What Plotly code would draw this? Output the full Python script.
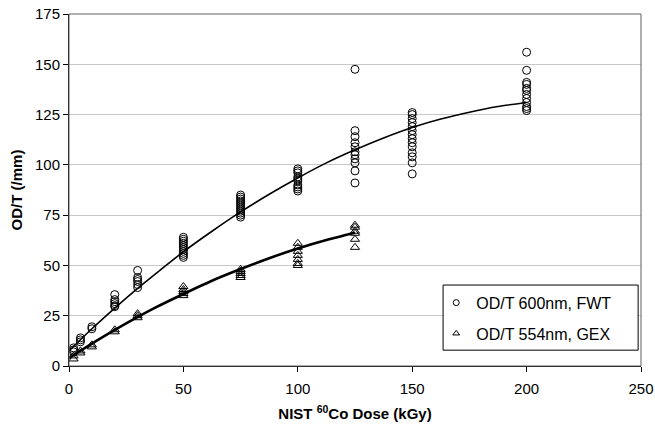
import plotly.graph_objects as go

# FWT (600 nm) readings: dose -> list of OD/T values
fwt_doses = [2, 5, 10, 20, 30, 50, 75, 100, 125, 150, 200]
fwt_values = [
    [9, 8, 7],
    [14, 13, 12],
    [19.5, 18.5],
    [35.5, 33, 32, 31, 30, 29.5],
    [47.5, 44, 43, 42, 40.5, 39],
    [64, 63, 62, 61, 60, 59, 58, 57, 56, 55, 54],
    [85, 84, 83, 82, 81, 80, 79, 78, 77, 76, 75, 74],
    [98, 97, 96, 94, 93, 92, 90, 89, 88, 87],
    [147.5, 117, 114, 111, 109, 106.5, 105, 103, 101, 97, 91],
    [126, 125, 123, 121, 119, 117, 115, 113, 111, 109, 106, 104, 101, 95.5],
    [156, 147, 141, 140, 138, 137, 135, 133, 131, 129, 128, 127],
]

# GEX (554 nm) readings
gex_doses = [2, 5, 10, 20, 30, 50, 75, 100, 125]
gex_values = [
    [5, 3.5],
    [7.5, 6.5],
    [10.5, 9.5],
    [18, 17],
    [26, 25, 24],
    [39.5, 38, 37, 36, 35],
    [48, 47, 46, 45, 44],
    [61, 59, 57, 55, 53, 51, 50],
    [70, 69, 67, 66, 63, 59],
]

# trendlines
fwt_trend_x = [0, 10, 20, 30, 40, 50, 62.5, 75, 87.5, 100, 112.5, 125,
               137.5, 150, 162.5, 175, 187.5, 200]
fwt_trend_y = [7.5, 18.5, 28.8, 38.6, 47.8, 56.8, 67, 76.6, 85.4, 93.5, 101,
               107.5, 113.4, 118.6, 122.8, 126.2, 129, 131]
gex_trend_x = [0, 12.5, 25, 37.5, 50, 62.5, 75, 87.5, 100, 112.5, 125]
gex_trend_y = [4, 12.9, 21.2, 28.9, 35.8, 42.4, 48.2, 53.6, 58.4, 62.6, 66.2]

legend_names = ["OD/T 600nm, FWT", "OD/T 554nm, GEX"]
x_ticks = [0, 50, 100, 150, 200, 250]
y_ticks = [0, 25, 50, 75, 100, 125, 150, 175]


def flatten(doses, values):
    xs, ys = [], []
    for d, vals in zip(doses, values):
        for v in vals:
            xs.append(d)
            ys.append(v)
    return xs, ys


fx, fy = flatten(fwt_doses, fwt_values)
gx, gy = flatten(gex_doses, gex_values)

fig = go.Figure()

fig.add_trace(go.Scatter(x=fwt_trend_x, y=fwt_trend_y, mode="lines",
                         line=dict(color="black", width=1.6, shape="spline", smoothing=0.6),
                         showlegend=False, hoverinfo="skip"))
fig.add_trace(go.Scatter(x=gex_trend_x, y=gex_trend_y, mode="lines",
                         line=dict(color="black", width=2.6, shape="spline", smoothing=0.6),
                         showlegend=False, hoverinfo="skip"))

fig.add_trace(go.Scatter(x=fx, y=fy, mode="markers", showlegend=False,
                         marker=dict(symbol="circle-open", size=8, color="black",
                                     line=dict(width=1, color="black"))))
fig.add_trace(go.Scatter(x=gx, y=gy, mode="markers", showlegend=False,
                         marker=dict(symbol="triangle-up-open", size=8, color="black",
                                     line=dict(width=1, color="black"))))

# legend entries (small symbols as in the original)
fig.add_trace(go.Scatter(x=[None], y=[None], mode="markers", name=legend_names[0],
                         legendgroup="a",
                         marker=dict(symbol="circle-open", size=6, color="black",
                                     line=dict(width=1, color="black"))))
fig.add_trace(go.Scatter(x=[None], y=[None], mode="markers", name=legend_names[1],
                         legendgroup="b",
                         marker=dict(symbol="triangle-up-open", size=6, color="black",
                                     line=dict(width=1, color="black"))))

font_family = "Liberation Sans, Arial, sans-serif"

fig.update_layout(
    width=655, height=431,
    margin=dict(l=69, r=14, t=14, b=65),
    paper_bgcolor="white", plot_bgcolor="white",
    font=dict(family=font_family, size=15, color="black"),
    showlegend=True,
    legend=dict(x=0.642, xanchor="left", y=0.228, yanchor="top",
                bgcolor="rgba(0,0,0,0)", borderwidth=0,
                font=dict(size=16, color="black"), tracegroupgap=7,
                itemwidth=30),
    shapes=[
        dict(type="rect", xref="paper", yref="paper", x0=0, x1=1, y0=0, y1=1,
             line=dict(color="#606060", width=1), layer="above"),
        # legend frame
        dict(type="rect", xref="paper", yref="paper", x0=0.654, x1=0.995,
             y0=0.045, y1=0.230, fillcolor="white",
             line=dict(color="black", width=1), layer="above"),
    ],
)

fig.update_xaxes(
    range=[0, 250], tickvals=x_ticks, ticks="outside", ticklen=5,
    tickcolor="black", showgrid=False, zeroline=False, automargin=False,
    showline=True, linecolor="black", linewidth=1, ticklabelstandoff=4,
    tickfont=dict(size=15, color="black"),
    title=dict(text="<b>NIST <sup>60</sup>Co Dose (kGy)</b>",
               font=dict(size=15, color="black"), standoff=12),
)
fig.update_yaxes(
    range=[0, 175], tickvals=y_ticks, ticks="outside", ticklen=5,
    tickcolor="black", showgrid=True, gridcolor="#c8c8c8", gridwidth=1,
    zeroline=False, showline=True, linecolor="black", linewidth=1, automargin=False,
    tickfont=dict(size=15, color="black"),
    title=dict(text="<b>OD/T (/mm)</b>", font=dict(size=15, color="black"),
               standoff=8),
)

fig.write_html("out.html", config={"displayModeBar": False},
               post_script="document.body.style.margin='0px';")
